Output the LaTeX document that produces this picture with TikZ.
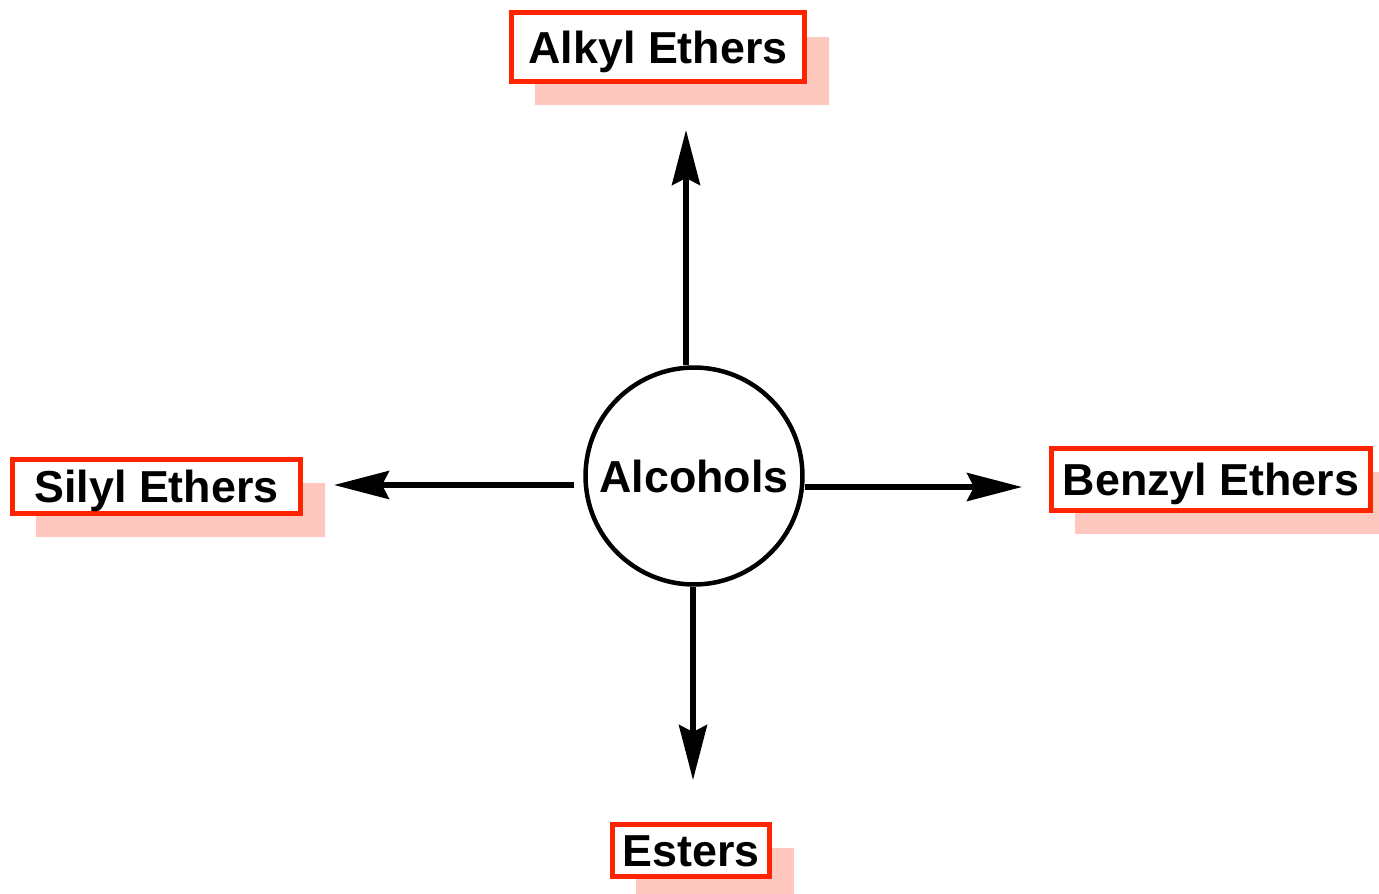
\documentclass[tikz,border=0pt]{standalone}
\usepackage{fontspec}
\setmainfont{Liberation Sans}
\usetikzlibrary{arrows.meta,shadows}
\definecolor{boxred}{HTML}{FF2400}
\definecolor{shadowpink}{HTML}{FFC8BE}
\tikzset{
  prodbox/.style={draw=boxred, line width=0.1cm, fill=white, inner sep=0pt,
    text height=18.4pt, text depth=0pt,
    drop shadow={shadow xshift=0.48cm, shadow yshift=-0.48cm, fill=shadowpink, opacity=1},
    font=\fontsize{25.5}{30}\selectfont\bfseries},
  startnode/.style={circle, draw, line width=0.09cm, fill=white, inner sep=0pt,
    minimum size=4.34cm, text height=18.4pt, text depth=0pt,
    font=\fontsize{25.5}{30}\selectfont\bfseries},
  reactarrow/.style={line width=0.11cm, -{Stealth[length=1.1cm,width=0.56cm,inset=0.14cm]}}
}
\begin{document}
\begin{tikzpicture}[x=0.02cm, y=-0.02cm]
  \useasboundingbox (0,0) rectangle (1379,893);

  \node[startnode] (alc) at (694,476) {Alcohols};

  \foreach \nm/\x/\y/\w/\h/\txt in {alkyl/658/47/5.88/1.38/Alkyl Ethers,
      silyl/156.5/486/5.78/1.08/Silyl Ethers,
      benzyl/1211/479/6.40/1.24/Benzyl Ethers,
      esters/691/850/3.16/1.04/Esters} {
   \node[prodbox, minimum width=\w cm, minimum height=\h cm] (\nm) at (\x,\y) {\txt};
  }

  \coordinate (alkyltip) at (686,130);
  \coordinate (silyltip) at (334,485);
  \coordinate (benzyltip) at (1022,487);
  \coordinate (esterstip) at (693,780);

  \draw[reactarrow] (alc.north -| alkyltip) -- (alkyltip);
  \draw[reactarrow, shorten <=0.18cm] (alc.west |- silyltip) -- (silyltip);
  \draw[reactarrow] (alc.east |- benzyltip) -- (benzyltip);
  \draw[reactarrow] (alc.south -| esterstip) -- (esterstip);
 \end{tikzpicture}
\end{document}
